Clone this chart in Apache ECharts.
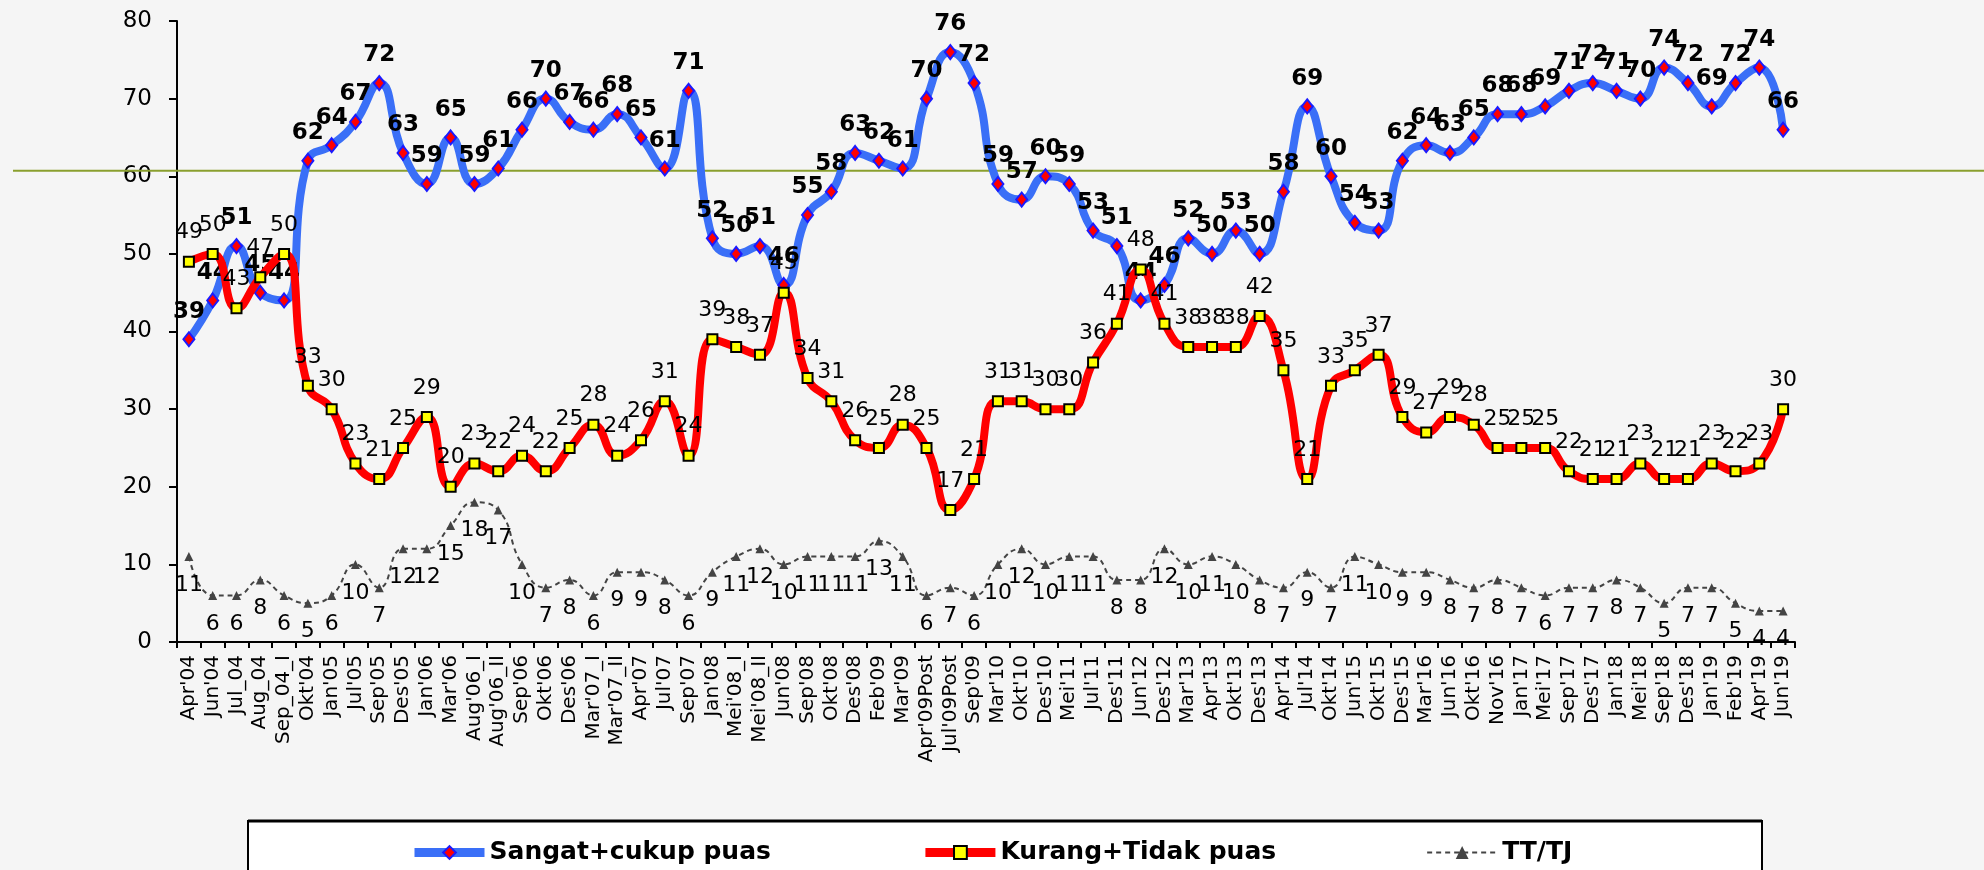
<!DOCTYPE html>
<html>
<head>
<meta charset="utf-8">
<script src="https://cdn.jsdelivr.net/npm/echarts@6/dist/echarts.min.js"></script>
<style>
html,body{margin:0;padding:0;background:#f5f5f5;}
#c{width:1984px;height:870px;}
</style>
</head>
<body>
<div id="c"></div>
<script>
const categories = ["Apr'04","Jun'04","Jul_04","Aug_04","Sep_04_I","Okt'04","Jan'05","Jul'05","Sep'05","Des'05","Jan'06","Mar'06","Aug'06_I","Aug'06_II","Sep'06","Okt'06","Des'06","Mar'07_I","Mar'07_II","Apr'07","Jul'07","Sep'07","Jan'08","Mei'08_I","Mei'08_II","Jun'08","Sep'08","Okt'08","Des'08","Feb'09","Mar'09","Apr'09Post","Jul'09Post","Sep'09","Mar'10","Okt'10","Des'10","Mei'11","Jul'11","Des'11","Jun'12","Des'12","Mar'13","Apr'13","Okt'13","Des'13","Apr'14","Jul'14","Okt'14","Jun'15","Okt'15","Des'15","Mar'16","Jun'16","Okt'16","Nov'16","Jan'17","Mei'17","Sep'17","Des'17","Jan'18","Mei'18","Sep'18","Des'18","Jan'19","Feb'19","Apr'19","Jun'19"];

const sangat = [39,44,51,45,44,62,64,67,72,63, 59,65,59,61,66,70,67,66,68,65, 61,71,52,50,51,46,55,58,63,62, 61,70,76,72,59,57,60,59,53,51, 44,46,52,50,53,50,58,69,60,54, 53,62,64,63,65,68,68,69,71,72, 71,70,74,72,69,72,74,66];

const kurang = [49,50,43,47,50,33,30,23,21,25, 29,20,23,22,24,22,25,28,24,26, 31,24,39,38,37,45,34,31,26,25, 28,25,17,21,31,31,30,30,36,41, 48,41,38,38,38,42,35,21,33,35, 37,29,27,29,28,25,25,25,22,21, 21,23,21,21,23,22,23,30];

const tttj = [11,6,6,8,6,5,6,10,7,12, 12,15,18,17,10,7,8,6,9,9, 8,6,9,11,12,10,11,11,11,13, 11,6,7,6,10,12,10,11,11,8, 8,12,10,11,10,8,7,9,7,11, 10,9,9,8,7,8,7,6,7,7, 8,7,5,7,7,5,4,4];

const seriesNames = ["Sangat+cukup puas", "Kurang+Tidak puas", "TT/TJ"];
const yMin = 0, yMax = 80, yInterval = 10;
const refLineValue = 60.7;

const FONT = "DejaVu Sans";
const chart = echarts.init(document.getElementById('c'), null, {renderer:'canvas'});

const option = {
  backgroundColor: '#f5f5f5',
  animation: false,
  grid: {left: 177, right: 189, top: 21, bottom: 228},
  legend: {
    left: 405, top: 835,
    itemWidth: 70, itemHeight: 16, itemGap: 150,
    textStyle: {fontFamily: FONT, fontWeight: 'bold', fontSize: 25, color: '#000'},
    data: [
      {name: seriesNames[0], lineStyle: {width: 9}},
      {name: seriesNames[1], lineStyle: {width: 9}},
      {name: seriesNames[2]}
    ]
  },
  xAxis: {
    type: 'category',
    data: categories,
    boundaryGap: true,
    axisLine: {lineStyle: {color: '#000', width: 2}},
    axisTick: {show: true, length: 6, interval: 0, lineStyle: {color: '#000', width: 2}},
    axisLabel: {interval: 0, rotate: 90, fontFamily: FONT, fontSize: 20, color: '#000', margin: 13}
  },
  yAxis: {
    type: 'value', min: yMin, max: yMax, interval: yInterval,
    splitLine: {show: false},
    axisLine: {show: true, lineStyle: {color: '#000', width: 2}},
    axisTick: {show: true, length: 8, lineStyle: {color: '#000', width: 2}},
    axisLabel: {fontFamily: FONT, fontSize: 23, color: '#000', margin: 25}
  },
  series: [
    {
      name: seriesNames[0], type: 'line', data: sangat, smooth: 0.5,
      lineStyle: {color: '#3a6ff7', width: 8},
      itemStyle: {color: '#ff0000', borderColor: '#1a1aff', borderWidth: 2},
      symbol: 'diamond', symbolSize: [11, 14],
      label: {show: true, position: 'top', distance: 8, fontFamily: FONT, fontWeight: 'bold', fontSize: 23, color: '#000'},
      z: 3
    },
    {
      name: seriesNames[1], type: 'line', data: kurang, smooth: 0.5,
      lineStyle: {color: '#ff0000', width: 8},
      itemStyle: {color: '#ffff00', borderColor: '#000', borderWidth: 2},
      symbol: 'rect', symbolSize: 10,
      label: {show: true, position: 'top', distance: 12, fontFamily: FONT, fontSize: 22, color: '#000'},
      z: 4
    },
    {
      name: seriesNames[2], type: 'line', data: tttj, smooth: 0.5,
      lineStyle: {color: '#444', width: 2, type: [5, 4]},
      itemStyle: {color: '#444'},
      symbol: 'triangle', symbolSize: 9,
      label: {show: true, position: 'bottom', distance: 13, fontFamily: FONT, fontSize: 22, color: '#000'},
      z: 2
    }
  ]
};
chart.setOption(option);

const yRef = chart.convertToPixel({yAxisIndex: 0}, refLineValue);
chart.setOption({
  graphic: [
    {type: 'line', z: 1, shape: {x1: 13, y1: yRef, x2: 1984, y2: yRef}, style: {stroke: '#8a9f2e', lineWidth: 2}},
    {type: 'rect', z: 0, shape: {x: 248, y: 821, width: 1514, height: 70}, style: {fill: '#ffffff', stroke: '#000', lineWidth: 2}},
    {type: 'line', z: 1, shape: {x1: 248, y1: 821, x2: 1762, y2: 821}, style: {stroke: '#000', lineWidth: 3}}
  ]
});
</script>
</body>
</html>
